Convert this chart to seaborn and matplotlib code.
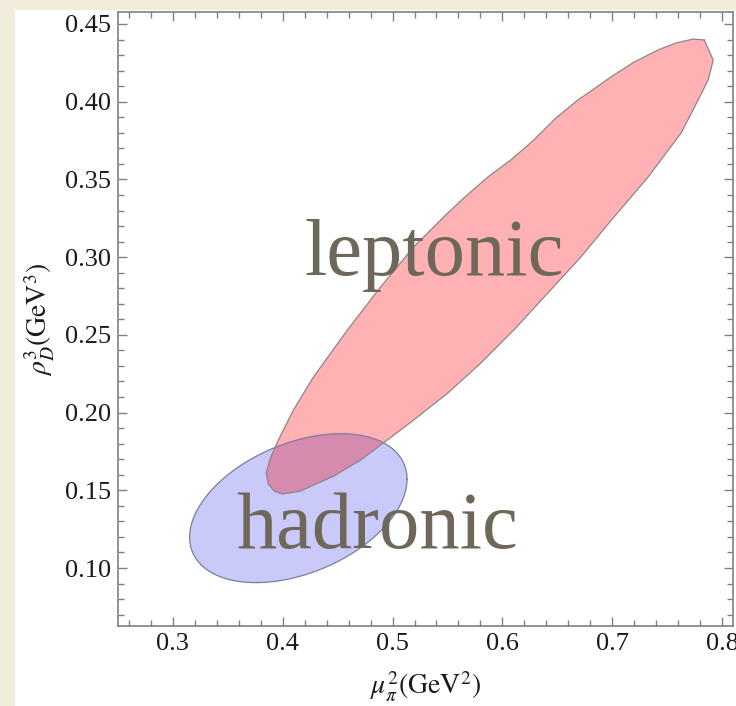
import numpy as np
import matplotlib
matplotlib.use("Agg")
import matplotlib.pyplot as plt
from matplotlib.patches import Polygon, Rectangle
import seaborn as sns

# ---- data ----
# leptonic region boundary (mu_pi^2, rho_D^3)
lep_x = [0.7838, 0.7737, 0.7582, 0.7418, 0.7199, 0.6989, 0.6807, 0.6688, 0.6487,
         0.6287, 0.6077, 0.5867, 0.5648, 0.5502, 0.5192, 0.4891, 0.4589, 0.4279,
         0.4097, 0.3960, 0.3887, 0.3850, 0.3869, 0.3923, 0.3996, 0.4161, 0.4462,
         0.4708, 0.4891, 0.5192, 0.5502, 0.5803, 0.6104, 0.6414, 0.6715, 0.7016,
         0.7327, 0.7628, 0.7783, 0.7874, 0.7920]
lep_y = [0.4397, 0.4403, 0.4378, 0.4333, 0.4255, 0.4159, 0.4069, 0.4011, 0.3895,
         0.3754, 0.3625, 0.3515, 0.3380, 0.3284, 0.3065, 0.2808, 0.2531, 0.2228,
         0.2016, 0.1823, 0.1707, 0.1611, 0.1540, 0.1495, 0.1476, 0.1495, 0.1591,
         0.1694, 0.1791, 0.1952, 0.2125, 0.2318, 0.2531, 0.2769, 0.3001, 0.3258,
         0.3515, 0.3799, 0.4011, 0.4140, 0.4268]

# hadronic ellipse parameters
had_center = (0.4142, 0.1385)
had_halfwidth = 0.099
had_halfheight = 0.0479
had_corr = 0.39

labels = ["leptonic", "hadronic"]
label_x = [0.5379, 0.4859]
label_y = [0.2885, 0.1128]

x_ticks = [0.3, 0.4, 0.5, 0.6, 0.7, 0.8]
y_ticks = [0.10, 0.15, 0.20, 0.25, 0.30, 0.35, 0.40, 0.45]
x_lim = (0.25, 0.81)
y_lim = (0.0627, 0.4577)

# ---- style ----
sns.set_theme(style="ticks")
plt.rcParams["font.family"] = ["Liberation Serif", "DejaVu Serif"]
plt.rcParams["mathtext.fontset"] = "stix"

W, H = 736, 706
fig = plt.figure(figsize=(W / 100, H / 100), dpi=100, facecolor="#f1ecdc")
bg = Rectangle((15 / W, 0), 1, (H - 10) / H, transform=fig.transFigure,
               facecolor="white", edgecolor="none", zorder=-10)
fig.patches.append(bg)
ax = fig.add_axes([118 / W, (H - 626) / H, (733 - 118) / W, (626 - 12) / H])
ax.set_zorder(1)
ax.set_facecolor("white")

# hadronic ellipse boundary
t = np.linspace(0, 2 * np.pi, 300)
delta = np.arccos(had_corr)
hx = had_center[0] + had_halfwidth * np.cos(t)
hy = had_center[1] + had_halfheight * np.cos(t - delta)

blue = Polygon(np.column_stack([hx, hy]), closed=True, facecolor="#c9c9fa",
               edgecolor="none", zorder=1)
ax.add_patch(blue)
red = Polygon(np.column_stack([lep_x, lep_y]), closed=True, facecolor="#ffb1b4",
              edgecolor="none", zorder=2)
ax.add_patch(red)
over = Polygon(np.column_stack([lep_x, lep_y]), closed=True, facecolor="#d68bae",
               edgecolor="none", zorder=3)
ax.add_patch(over)
over.set_clip_path(blue)

# outlines via seaborn
sns.lineplot(x=np.append(hx, hx[0]), y=np.append(hy, hy[0]), sort=False,
             estimator=None, ax=ax, color="#7c7c9c", lw=0.9, zorder=4)
sns.lineplot(x=lep_x + [lep_x[0]], y=lep_y + [lep_y[0]], sort=False,
             estimator=None, ax=ax, color="#8c8686", lw=0.9, zorder=5)

for lab, lx, ly in zip(labels, label_x, label_y):
    ax.text(lx, ly, lab, ha="center", va="baseline", fontsize=58,
            color="#6e685a", family="Liberation Serif", zorder=6)

ax.set_xlim(*x_lim)
ax.set_ylim(*y_lim)
ax.set_xticks(x_ticks)
ax.set_yticks(y_ticks)
ax.set_xticklabels([f"{v:.1f}" for v in x_ticks])
ax.set_yticklabels([f"{v:.2f}" for v in y_ticks])
ax.xaxis.set_minor_locator(matplotlib.ticker.MultipleLocator(0.02))
ax.yaxis.set_minor_locator(matplotlib.ticker.MultipleLocator(0.01))

spine_c = "#808080"
for s in ax.spines.values():
    s.set_color(spine_c)
    s.set_linewidth(1.2)
    s.set_visible(True)
ax.tick_params(which="both", direction="in", top=True, right=True, color=spine_c,
               width=1.0, labelsize=19, labelcolor="#1a1a1a")
ax.tick_params(which="major", length=6.5, pad=5)
ax.tick_params(which="minor", length=4)

ax.set_xlabel(r"$\mu_{\pi}^{2}(\mathrm{GeV}^{2})$", fontsize=20, color="#1a1a1a",
              labelpad=11)
ax.set_ylabel(r"$\rho_{D}^{3}(\mathrm{GeV}^{3})$", fontsize=20, color="#1a1a1a",
              labelpad=6)
ax.grid(False)

fig.savefig("out.png", dpi=100, facecolor=fig.get_facecolor())
